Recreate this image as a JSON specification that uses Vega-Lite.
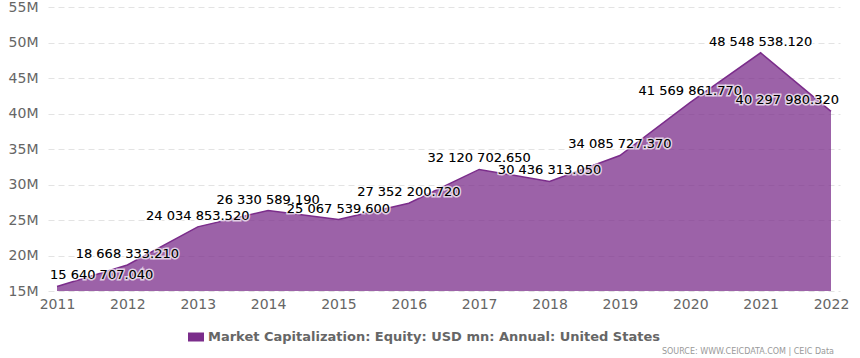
{
  "$schema": "https://vega.github.io/schema/vega-lite/v6.json",
  "width": 792,
  "height": 284,
  "autosize": "none",
  "padding": {"left": 48, "top": 7, "right": 20, "bottom": 67},
  "config": {
    "view": {"stroke": null},
    "font": "DejaVu Sans",
    "locale": {"number": {"decimal": ".", "thousands": " ", "grouping": [3], "currency": ["$", ""]}}
  },
  "title": {
    "text": "SOURCE: WWW.CEICDATA.COM | CEIC Data",
    "orient": "bottom",
    "anchor": "end",
    "frame": "group",
    "fontSize": 8,
    "fontWeight": "normal",
    "color": "#999999",
    "font": "DejaVu Sans",
    "offset": 4,
    "dx": -6
  },
  "data": {
    "values": [
      {"year": 2011, "value": 15640707.04, "series": "Market Capitalization: Equity: USD mn: Annual: United States"},
      {"year": 2012, "value": 18668333.21, "series": "Market Capitalization: Equity: USD mn: Annual: United States"},
      {"year": 2013, "value": 24034853.52, "series": "Market Capitalization: Equity: USD mn: Annual: United States"},
      {"year": 2014, "value": 26330589.19, "series": "Market Capitalization: Equity: USD mn: Annual: United States"},
      {"year": 2015, "value": 25067539.6, "series": "Market Capitalization: Equity: USD mn: Annual: United States"},
      {"year": 2016, "value": 27352200.72, "series": "Market Capitalization: Equity: USD mn: Annual: United States"},
      {"year": 2017, "value": 32120702.65, "series": "Market Capitalization: Equity: USD mn: Annual: United States"},
      {"year": 2018, "value": 30436313.05, "series": "Market Capitalization: Equity: USD mn: Annual: United States"},
      {"year": 2019, "value": 34085727.37, "series": "Market Capitalization: Equity: USD mn: Annual: United States"},
      {"year": 2020, "value": 41569861.77, "series": "Market Capitalization: Equity: USD mn: Annual: United States"},
      {"year": 2021, "value": 48548538.12, "series": "Market Capitalization: Equity: USD mn: Annual: United States"},
      {"year": 2022, "value": 40297980.32, "series": "Market Capitalization: Equity: USD mn: Annual: United States"}
    ]
  },
  "encoding": {
    "x": {
      "field": "year",
      "type": "quantitative",
      "scale": {"domain": [2011, 2022], "padding": 9, "nice": false, "zero": false},
      "axis": {
        "title": null,
        "values": [2011, 2012, 2013, 2014, 2015, 2016, 2017, 2018, 2019, 2020, 2021, 2022],
        "format": "d",
        "grid": false,
        "domain": false,
        "ticks": false,
        "labelPadding": 6,
        "labelFontSize": 14,
        "labelColor": "#666666",
        "labelFlush": false
      }
    },
    "y": {
      "field": "value",
      "type": "quantitative",
      "scale": {"domain": [15000000, 55000000], "nice": false, "zero": false},
      "axis": {
        "title": null,
        "values": [15000000, 20000000, 25000000, 30000000, 35000000, 40000000, 45000000, 50000000, 55000000],
        "format": "~s",
        "domain": false,
        "ticks": false,
        "labelPadding": 10,
        "labelFontSize": 14,
        "labelColor": "#666666",
        "gridColor": "#e3e3e3",
        "gridDash": [6, 4],
        "gridWidth": 1
      }
    }
  },
  "layer": [
    {
      "mark": {"type": "area", "fillOpacity": 0.75, "line": {"strokeWidth": 1.5}},
      "encoding": {
        "y2": {"datum": 15000000},
        "color": {
          "field": "series",
          "type": "nominal",
          "scale": {"range": ["#7b2d8b"]},
          "legend": {
            "title": null,
            "orient": "none",
            "legendX": 140,
            "legendY": 322,
            "symbolType": "M-1,-0.5625L1,-0.5625L1,0.5625L-1,0.5625Z",
            "symbolSize": 256,
            "symbolOpacity": 1,
            "symbolStrokeWidth": 0,
            "labelOffset": 4,
            "labelFontSize": 13,
            "labelFontWeight": "bold",
            "labelColor": "#666666",
            "labelLimit": 600
          }
        }
      }
    },
    {
      "mark": {
        "type": "text",
        "fontSize": 13,
        "baseline": "middle",
        "stroke": "white",
        "strokeWidth": 3,
        "strokeOpacity": 0.7,
        "dy": -11,
        "align": {"expr": "datum.year == 2011 ? 'left' : datum.year == 2022 ? 'right' : 'center'"},
        "dx": {"expr": "datum.year == 2011 ? -7 : datum.year == 2022 ? 8 : 0"}
      },
      "encoding": {"text": {"field": "value", "type": "quantitative", "format": ",.3f"}}
    },
    {
      "mark": {
        "type": "text",
        "fontSize": 13,
        "baseline": "middle",
        "color": "black",
        "dy": -11,
        "align": {"expr": "datum.year == 2011 ? 'left' : datum.year == 2022 ? 'right' : 'center'"},
        "dx": {"expr": "datum.year == 2011 ? -7 : datum.year == 2022 ? 8 : 0"}
      },
      "encoding": {"text": {"field": "value", "type": "quantitative", "format": ",.3f"}}
    }
  ]
}
